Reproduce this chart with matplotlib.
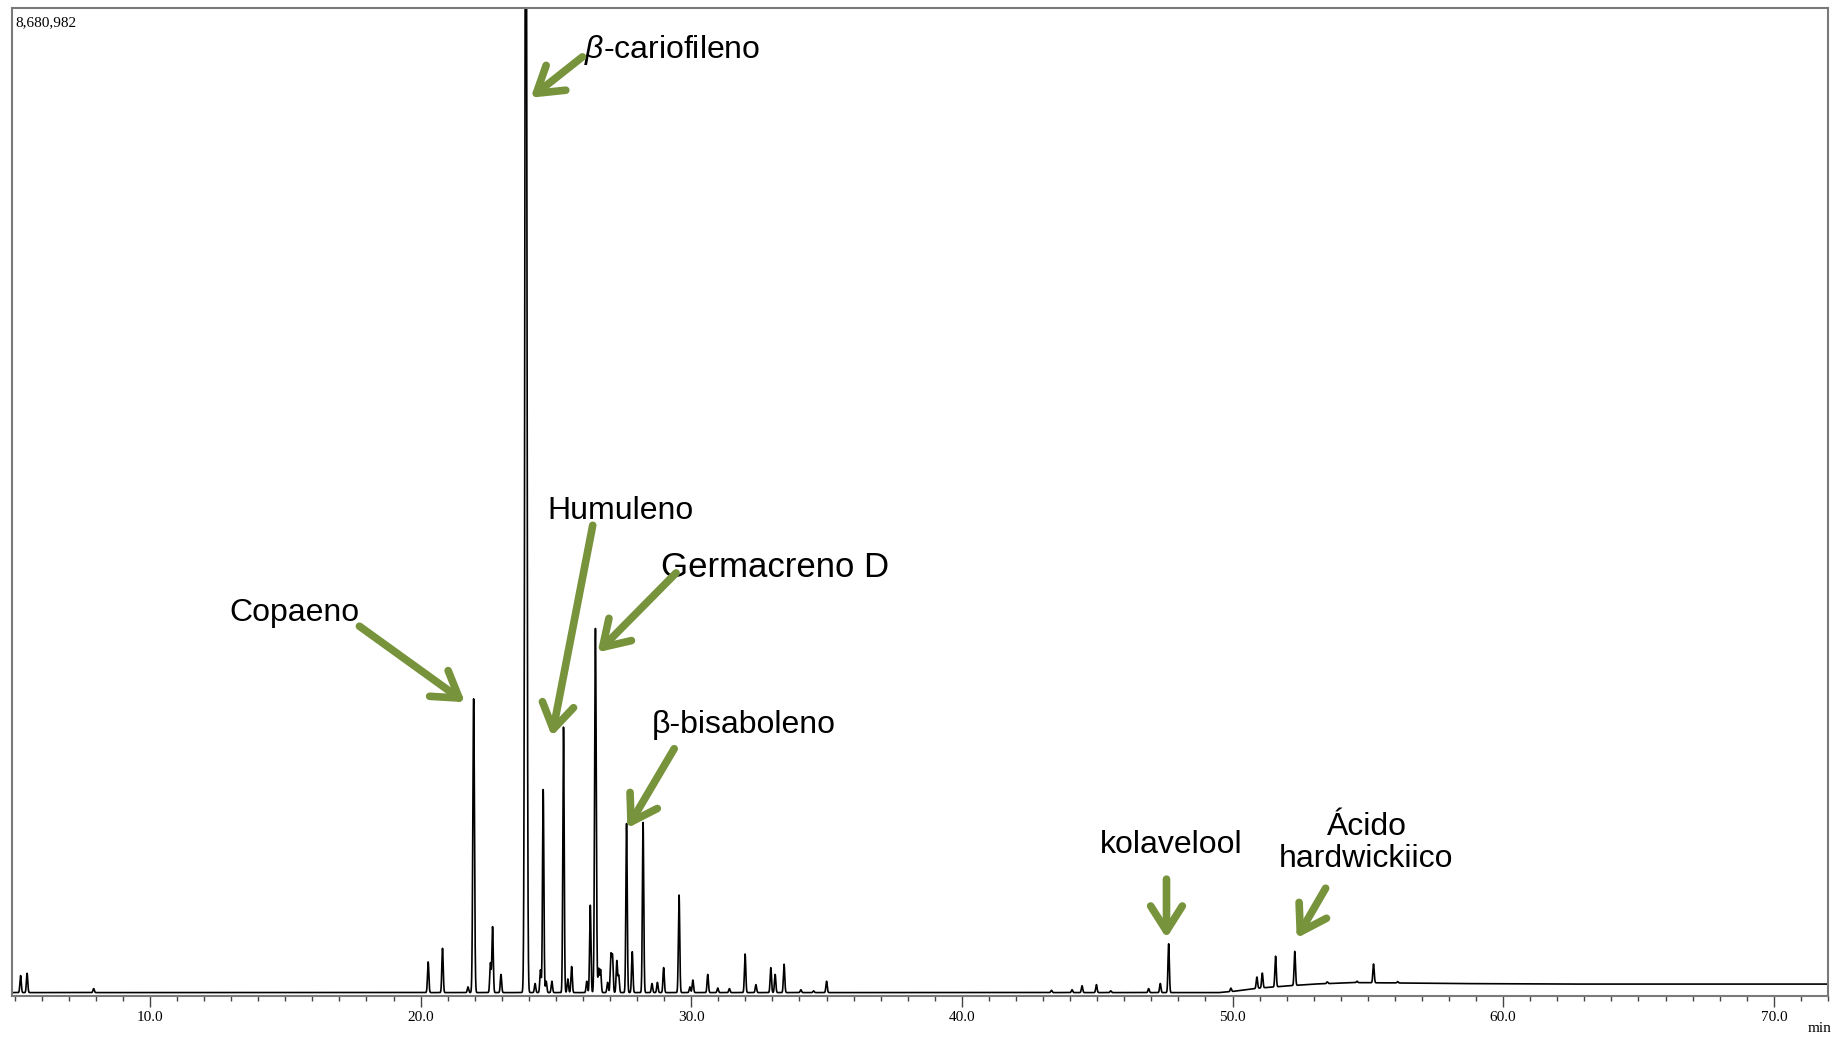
import numpy as np
import matplotlib
matplotlib.use("Agg")
import matplotlib.pyplot as plt
from matplotlib.ticker import MultipleLocator

plt.rcParams['mathtext.fontset'] = 'custom'
plt.rcParams['mathtext.it'] = 'Liberation Sans:italic'
plt.rcParams['mathtext.rm'] = 'Liberation Sans'

# peak list (retention time in min, height in counts)
peak_times = [5.22, 5.46, 7.92, 20.28, 20.81, 21.75, 21.96, 22.58, 22.66, 22.97,
              23.89, 24.23, 24.43, 24.53, 24.64, 24.85, 25.28, 25.44, 25.58, 26.14,
              26.27, 26.46, 26.58, 26.65, 26.91, 27.03, 27.09, 27.25, 27.32, 27.61,
              27.82, 28.22, 28.55, 28.75, 28.98, 29.55, 29.95, 30.06, 30.61, 30.98,
              31.41, 31.99, 32.39, 32.94, 33.10, 33.43, 34.05, 34.52, 35.00, 43.31,
              44.07, 44.44, 44.97, 45.50, 46.90, 47.33, 47.64, 49.94, 50.90, 51.10,
              51.59, 52.30, 53.50, 54.60, 55.21, 56.10]
peak_heights = [150000, 170000, 35000, 270000, 390000, 50000, 2590000, 260000, 580000, 160000,
                12000000, 80000, 200000, 1790000, 100000, 100000, 2340000, 120000, 230000, 100000,
                770000, 3210000, 210000, 200000, 90000, 330000, 320000, 280000, 150000, 1490000,
                360000, 1500000, 80000, 90000, 220000, 860000, 50000, 110000, 160000, 40000,
                35000, 340000, 70000, 220000, 160000, 250000, 25000, 15000, 100000, 20000,
                25000, 60000, 70000, 15000, 35000, 80000, 430000, 30000, 100000, 130000,
                270000, 300000, 15000, 12000, 165000, 12000]
peak_widths = [0.025] * len(peak_times)
peak_widths[peak_times.index(23.89)] = 0.035
peak_widths[peak_times.index(26.46)] = 0.03
peak_widths[peak_times.index(21.96)] = 0.03

# baseline drift (min, counts)
base_t = [4.9, 49.5, 50.0, 51.0, 52.0, 53.0, 54.5, 56.0, 58.0, 62.0, 72.0]
base_y = [0, 0, 10000, 40000, 58000, 75000, 88000, 85000, 80000, 75000, 75000]

y_max = 8680982
x_min, x_max = 4.9, 72.0

t = np.arange(x_min, x_max, 0.002)
signal = np.interp(t, base_t, base_y)
for pt, ph, pw in zip(peak_times, peak_heights, peak_widths):
    signal += ph * np.exp(-0.5 * ((t - pt) / pw) ** 2)

fig = plt.figure(figsize=(18.34, 10.39), dpi=100)
ax = fig.add_axes([0.0065, 0.0414, 0.9902, 0.9509])
ax.plot(t, signal, color="black", lw=1.2)
ax.set_xlim(x_min, x_max)
ax.set_ylim(-30000, y_max)

ax.xaxis.set_major_locator(MultipleLocator(10))
ax.xaxis.set_minor_locator(MultipleLocator(1))
ax.xaxis.set_major_formatter(lambda v, p: f"{v:.1f}")
ax.tick_params(axis="x", which="major", direction="out", length=8, width=1,
               labelsize=11, pad=3, color="#444444")
ax.tick_params(axis="x", which="minor", direction="out", length=3.5, width=1, color="#444444")
for lab in ax.get_xticklabels():
    lab.set_family("Liberation Serif")
ax.set_yticks([])
for s in ax.spines.values():
    s.set_color("#7a7a7a")
    s.set_linewidth(1.5)

ax.text(0.002, 0.992, "8,680,982", transform=ax.transAxes, ha="left", va="top",
        fontsize=11, family="Liberation Serif")
fig.text(0.9985, 0.004, "min", ha="right", va="bottom", fontsize=11, family="Liberation Serif")

green = "#77933C"
arrow = dict(arrowstyle="->, head_length=0.6, head_width=0.38", color=green, lw=5.5,
             mutation_scale=30, shrinkA=0, shrinkB=0)

# (label, text x, text y, tail x, tail y, head x, head y, ha, size)
labels = [
    (r"$\mathit{\beta}$-cariofileno", 26.02, 8310000, 25.98, 8250000, 24.07, 7890000, "left", 23),
    ("Humuleno", 27.37, 4250000, 26.36, 4120000, 24.85, 2260000, "center", 23),
    ("Germacreno D", 33.09, 3750000, 29.44, 3700000, 26.54, 3000000, "center", 25),
    ("Copaeno", 15.33, 3350000, 17.74, 3230000, 21.64, 2560000, "center", 23),
    ("β-bisaboleno", 31.95, 2360000, 29.37, 2150000, 27.64, 1450000, "center", 23),
    ("kolavelool", 47.72, 1300000, 47.56, 1000000, 47.56, 480000, "center", 23),
    ("Ácido\nhardwickiico", 54.95, 1320000, 53.44, 920000, 52.37, 480000, "center", 23),
]
for lab, tx, ty, ax0, ay0, hx, hy, ha, size in labels:
    ax.text(tx, ty, lab, ha=ha, va="center", linespacing=1.1, fontsize=size,
            family="Liberation Sans", color="black")
    ax.annotate("", xy=(hx, hy), xytext=(ax0, ay0), arrowprops=arrow)

fig.savefig("out.png", dpi=100)
